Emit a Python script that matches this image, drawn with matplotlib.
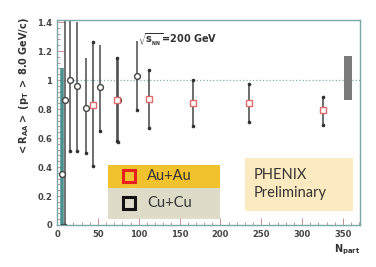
import numpy as np
import matplotlib
matplotlib.use('Agg')
import matplotlib.pyplot as plt
from matplotlib.patches import Rectangle
from matplotlib.ticker import MultipleLocator

# Cu+Cu points (open circles)
cu_npart = [6, 10, 16, 25, 36, 53, 75, 98]
cu_raa = [0.35, 0.86, 1.00, 0.96, 0.81, 0.95, 0.86, 1.03]
cu_lo = [0.00, 0.00, 0.51, 0.51, 0.50, 0.65, 0.57, 0.79]
cu_hi = [1.08, 1.45, 1.45, 1.40, 1.15, 1.24, 1.14, 1.27]

# Au+Au points (open squares)
au_npart = [44, 73, 113, 167, 235, 326]
au_raa = [0.83, 0.86, 0.87, 0.84, 0.84, 0.79]
au_lo = [0.41, 0.58, 0.67, 0.68, 0.71, 0.69]
au_hi = [1.26, 1.15, 1.07, 1.00, 0.97, 0.885]

# global normalisation box
sys_npart = 356
sys_lo, sys_hi = 0.86, 1.165

W, H = 376, 267


def px(x, y):
    # pixel (from top-left) -> figure fraction
    return x / W, 1 - y / H


fig = plt.figure(figsize=(W / 100, H / 100), dpi=100)
ax = fig.add_axes([57 / W, 42 / H, 303 / W, 205 / H])
ax.set_xlim(0, 371)
ax.set_ylim(0, 1.414)

ax.axhline(1.0, color='#7fb3b3', ls=':', lw=0.9, zorder=1)

# error bars
cu_cols = ['#4f8f8f'] + ['#4a4a4a'] * (len(cu_npart) - 1)
cu_lw = [2.6] + [1.1] * (len(cu_npart) - 1)
ax.vlines(cu_npart, cu_lo, cu_hi, colors=cu_cols, linewidths=cu_lw, zorder=2)
ax.vlines(au_npart, au_lo, au_hi, colors='#454545', linewidths=1.1, zorder=2)
ax.plot(cu_npart, cu_lo, ls='none', marker='o', ms=1.6, color='#333333', zorder=2)
ax.plot(au_npart, au_lo, ls='none', marker='o', ms=1.6, color='#333333', zorder=2)
ax.plot(au_npart, au_hi, ls='none', marker='o', ms=1.6, color='#333333', zorder=2)

ax.plot(cu_npart, cu_raa, ls='none', marker='o', ms=4.2, mfc='white',
        mec='#444444', mew=1.0, zorder=3)
ax.plot(au_npart, au_raa, ls='none', marker='s', ms=4.2, mfc='white',
        mec='#e06a6a', mew=1.0, zorder=3)

ax.add_patch(Rectangle((sys_npart - 5, sys_lo), 10, sys_hi - sys_lo,
                       facecolor='#7a7a7a', edgecolor='none', zorder=2))

for s in ax.spines.values():
    s.set_color('#7aa8a8')
    s.set_linewidth(1.0)

ax.xaxis.set_minor_locator(MultipleLocator(10))
ax.yaxis.set_minor_locator(MultipleLocator(0.04))
ax.tick_params(which='both', direction='in', color='#c89090', width=0.7,
               labelsize=6, labelcolor='#444444', top=False, right=False)
ax.tick_params(which='major', length=5)
ax.tick_params(which='minor', length=2.5)
ax.set_xticks(np.arange(0, 351, 50))
ax.set_xticklabels([str(v) for v in range(0, 351, 50)], fontweight='bold')
ax.set_yticks(np.arange(0, 1.41, 0.2))
ax.set_yticklabels(['0', '0.2', '0.4', '0.6', '0.8', '1', '1.2', '1.4'],
                   fontweight='bold')

fig.text(*px(24, 17), r'$\mathbf{<R_{AA}>\ (p_T\ >\ 8.0\ GeV/c)}$', rotation=90,
         ha='center', va='top', fontsize=7, color='#333333')
fig.text(*px(360, 250), r'$\mathbf{N_{part}}$', ha='right', va='center',
         fontsize=7, color='#333333')
fig.text(*px(138, 40), r'$\sqrt{\mathbf{s_{_{NN}}}}$=200 GeV', ha='left',
         va='center', fontsize=7, fontweight='bold', color='#333333')

# legend boxes
x0, y0 = px(108, 188)
fig.patches.append(Rectangle((x0, y0), 112 / W, 23 / H, transform=fig.transFigure,
                             facecolor='#f2c12e', edgecolor='none'))
x0, y0 = px(108, 219)
fig.patches.append(Rectangle((x0, y0), 112 / W, 31 / H, transform=fig.transFigure,
                             facecolor='#dedbc8', edgecolor='none'))
fig.lines.append(plt.Line2D([129 / W], [1 - 176 / H], transform=fig.transFigure,
                            marker='s', ms=9, mfc='none', mec='#e8201c', mew=2.2))
fig.lines.append(plt.Line2D([129 / W], [1 - 203 / H], transform=fig.transFigure,
                            marker='s', ms=9, mfc='none', mec='#111111', mew=2.2))
fig.text(*px(147, 176), 'Au+Au', ha='left', va='center', fontsize=10.5,
         family='Lato', color='#333333')
fig.text(*px(147, 203), 'Cu+Cu', ha='left', va='center', fontsize=10.5,
         family='Lato', color='#333333')

# PHENIX box
x0, y0 = px(245, 211)
fig.patches.append(Rectangle((x0, y0), 108 / W, 53 / H, transform=fig.transFigure,
                             facecolor='#fcebc0', edgecolor='none'))
fig.text(*px(254, 184), 'PHENIX\nPreliminary', ha='left', va='center',
         fontsize=10.5, family='Lato', color='#333333', linespacing=1.3)

fig.savefig('out.png', dpi=100)
